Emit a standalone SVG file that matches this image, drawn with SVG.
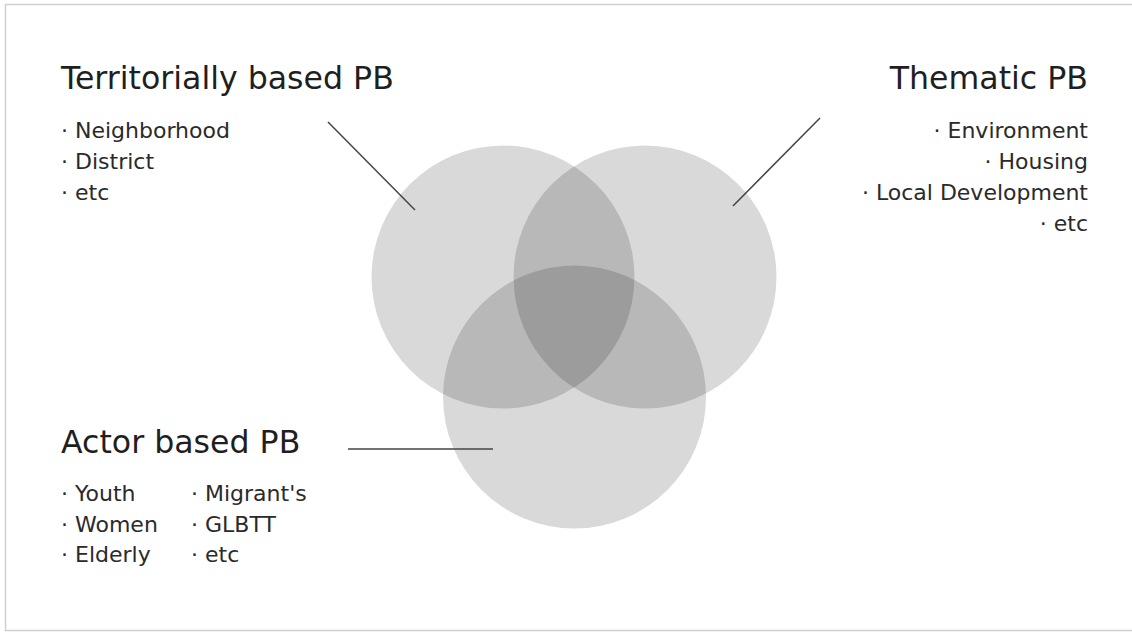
<svg xmlns="http://www.w3.org/2000/svg" width="1132" height="636" viewBox="0 0 1132 636">
<style>
.title{font-family:"DejaVu Sans","Liberation Sans",sans-serif;font-size:31.6px;fill:#1f1f1f}
.item{font-family:"DejaVu Sans","Liberation Sans",sans-serif;font-size:22px;fill:#2a2a2a}
.set{fill:#000;fill-opacity:0.15}
.conn{stroke:#444;stroke-width:1.5;fill:none}
</style>
<rect x="0" y="0" width="1132" height="636" fill="#fff"/>
<path d="M1132 4.5 H5.5 V630.5 H1132" fill="none" stroke="#cfcfcf" stroke-width="1.5"/>
<g id="territorial">
<circle class="set" cx="503" cy="277" r="131.5"/>
<text class="title" x="61" y="89">Territorially based PB</text>
<text class="item" x="61" y="138">· Neighborhood</text>
<text class="item" x="61" y="169">· District</text>
<text class="item" x="61" y="200">· etc</text>
</g>
<g id="thematic">
<circle class="set" cx="645" cy="277" r="131.5"/>
<text class="title" x="1088" y="89" text-anchor="end">Thematic PB</text>
<text class="item" x="1088" y="138" text-anchor="end">· Environment</text>
<text class="item" x="1088" y="169" text-anchor="end">· Housing</text>
<text class="item" x="1088" y="200" text-anchor="end">· Local Development</text>
<text class="item" x="1088" y="231" text-anchor="end">· etc</text>
</g>
<g id="actor">
<circle class="set" cx="574.5" cy="397" r="131.5"/>
<text class="title" x="61" y="453">Actor based PB</text>
<text class="item" x="61" y="501">· Youth</text>
<text class="item" x="61" y="532">· Women</text>
<text class="item" x="61" y="562">· Elderly</text>
<text class="item" x="191" y="501">· Migrant's</text>
<text class="item" x="191" y="532">· GLBTT</text>
<text class="item" x="191" y="562">· etc</text>
</g>
<g id="connectors">
<line class="conn" x1="328" y1="122" x2="415" y2="210"/>
<line class="conn" x1="820" y1="118" x2="733" y2="206"/>
<line class="conn" x1="348" y1="449" x2="493" y2="449"/>
</g>
</svg>
